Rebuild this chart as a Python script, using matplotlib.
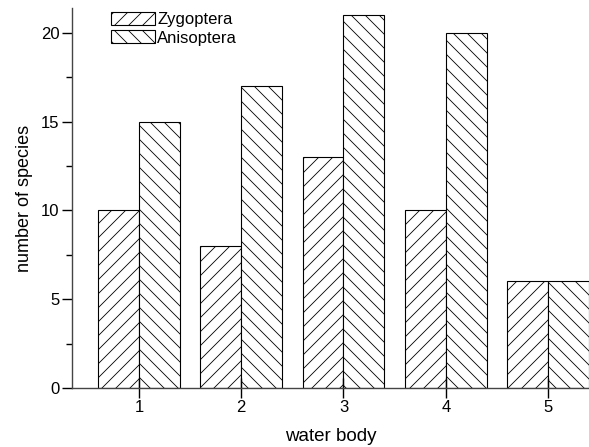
import numpy as np
import matplotlib
matplotlib.use("Agg")
import matplotlib.pyplot as plt
from matplotlib.ticker import MultipleLocator

# data
water_body = [1, 2, 3, 4, 5]
zygoptera = [10, 8, 13, 10, 6]
anisoptera = [15, 17, 21, 20, 6]

# lower dpi gives denser hatching; K keeps sizes as they would be at 100 dpi
DPI = 84
K = 100 / DPI

plt.rcParams['font.family'] = ['Liberation Sans', 'DejaVu Sans']
plt.rcParams['hatch.linewidth'] = 0.6 * K

fig = plt.figure(figsize=(589 / DPI, 447 / DPI), dpi=DPI)
ax = fig.add_axes([0.1222, 0.1320, 0.8778, 0.850])

x = np.array(water_body)
w = 0.4
ax.bar(x - w / 2, zygoptera, w, color='white', edgecolor='black', hatch='//', linewidth=0.8 * K, label='Zygoptera')
ax.bar(x + w / 2, anisoptera, w, color='white', edgecolor='black', hatch='\\\\', linewidth=0.8 * K, label='Anisoptera')

ax.set_xlim(0.346, 5.40)
ax.set_ylim(0, 21.4)
ax.set_xticks(water_body)
ax.yaxis.set_major_locator(MultipleLocator(5))
ax.yaxis.set_minor_locator(MultipleLocator(2.5))

for s in ['top', 'right']:
    ax.spines[s].set_visible(False)
for s in ['left', 'bottom']:
    ax.spines[s].set_color('#444444')
    ax.spines[s].set_linewidth(1.0 * K)

ax.tick_params(axis='y', which='major', direction='out', length=7 * K, width=K, labelsize=12 * K, pad=2 * K)
ax.tick_params(axis='y', which='minor', direction='out', length=4 * K, width=K)
ax.tick_params(axis='x', which='major', direction='inout', length=14 * K, width=K, labelsize=12 * K, pad=2 * K)

ax.set_xlabel('water body', fontsize=13.5 * K, labelpad=9 * K)
ax.set_ylabel('number of species', fontsize=13 * K, labelpad=6 * K)

ax.legend(loc='upper left', bbox_to_anchor=(0.075, 0.99), frameon=False, fontsize=12 * K,
          handlelength=2.65, handleheight=0.8, handletextpad=0.15, labelspacing=0.2,
          borderaxespad=0.0, borderpad=0.0)

fig.savefig('out.png', dpi=DPI)
